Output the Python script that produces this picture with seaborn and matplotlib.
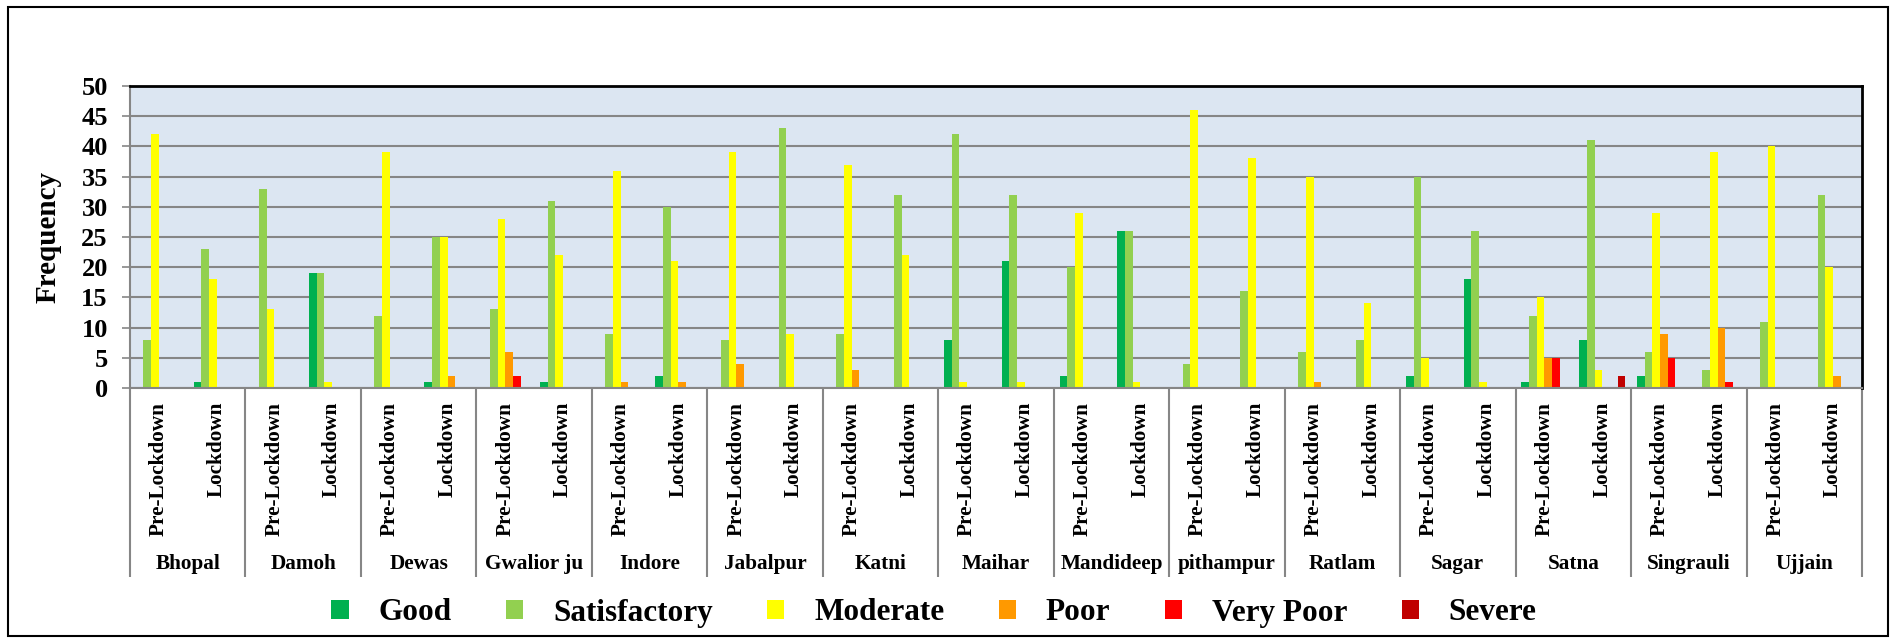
import pandas as pd
import matplotlib.pyplot as plt
import seaborn as sns
from matplotlib.patches import Rectangle

# data
cities = ["Bhopal", "Damoh", "Dewas", "Gwalior ju", "Indore", "Jabalpur", "Katni",
          "Maihar", "Mandideep", "pithampur", "Ratlam", "Sagar", "Satna",
          "Singrauli", "Ujjain"]
periods = ["Pre-Lockdown", "Lockdown"]
categories = ["Good", "Satisfactory", "Moderate", "Poor", "Very Poor", "Severe"]

good = [0, 1, 0, 19, 0, 1, 0, 1, 0, 2, 0, 0, 0, 0, 8, 21, 2, 26, 0, 0, 0, 0, 2, 18, 1, 8, 2, 0, 0, 0]
satisfactory = [8, 23, 33, 19, 12, 25, 13, 31, 9, 30, 8, 43, 9, 32, 42, 32, 20, 26, 4, 16, 6, 8, 35, 26, 12, 41, 6, 3, 11, 32]
moderate = [42, 18, 13, 1, 39, 25, 28, 22, 36, 21, 39, 9, 37, 22, 1, 1, 29, 1, 46, 38, 35, 14, 5, 1, 15, 3, 29, 39, 40, 20]
poor = [0, 0, 0, 0, 0, 2, 6, 0, 1, 1, 4, 0, 3, 0, 0, 0, 0, 0, 0, 0, 1, 0, 0, 0, 5, 0, 9, 10, 0, 2]
very_poor = [0, 0, 0, 0, 0, 0, 2, 0, 0, 0, 0, 0, 0, 0, 0, 0, 0, 0, 0, 0, 0, 0, 0, 0, 5, 0, 5, 1, 0, 0]
severe = [0, 0, 0, 0, 0, 0, 0, 0, 0, 0, 0, 0, 0, 0, 0, 0, 0, 0, 0, 0, 0, 0, 0, 0, 0, 2, 0, 0, 0, 0]

colors = ["#00B050", "#92D050", "#FFFF00", "#FF9900", "#FF0000", "#C00000"]

# long table for seaborn
slots = [f"{c}|{p}" for c in cities for p in periods]
series = [good, satisfactory, moderate, poor, very_poor, severe]
rows = []
for cat, vals in zip(categories, series):
    for s, v in zip(slots, vals):
        rows.append({"slot": s, "category": cat, "value": v})
df = pd.DataFrame(rows)

plt.rcParams["font.family"] = ["Liberation Serif", "DejaVu Serif"]
plt.rcParams["font.weight"] = "bold"

W, H = 1892, 639
fig = plt.figure(figsize=(W / 100, H / 100), dpi=100)
ax = fig.add_axes([130 / W, 1 - 388 / H, 1732 / W, 302 / H])
ax.set_facecolor("#DCE6F2")

sns.barplot(data=df, x="slot", y="value", hue="category", order=slots,
            hue_order=categories, palette=dict(zip(categories, colors)),
            width=0.8, linewidth=0, saturation=1, errorbar=None, ax=ax)

handles, labels = ax.get_legend_handles_labels()
ax.legend_.remove()

ax.set_xlim(-0.5, len(slots) - 0.5)
ax.set_ylim(0, 50)
ax.set_yticks(range(0, 51, 5))
ax.set_axisbelow(True)
ax.yaxis.grid(True, color="#868686", linewidth=1.5)
ax.xaxis.grid(False)

for side in ["top", "right"]:
    ax.spines[side].set_color("black")
    ax.spines[side].set_linewidth(2)
for side in ["left", "bottom"]:
    ax.spines[side].set_color("#868686")
    ax.spines[side].set_linewidth(1.5)

ax.tick_params(axis="y", length=6, width=1.2, color="#868686", pad=10,
               labelsize=19)
ax.set_xticks(range(len(slots)))
ax.set_xticklabels(periods * len(cities), rotation=90, va="top", fontsize=15.3,
                   fontweight="bold")
ax.tick_params(axis="x", length=0, pad=10)
for lab in ax.get_yticklabels():
    lab.set_fontweight("bold")

ax.set_xlabel("")
ax.set_ylabel("Frequency", fontsize=21, fontweight="bold")
ax.yaxis.set_label_coords(-0.0395, 0.5)

# city separators and names under the period labels
trans = ax.get_xaxis_transform()
bounds = [i * 2 - 0.5 for i in range(len(cities) + 1)]
ax.vlines(bounds, -0.626, 0, transform=trans, colors="#868686",
          linewidth=1.5, clip_on=False)
for i, c in enumerate(cities):
    ax.text(i * 2 + 0.5, -0.583, c, transform=trans, ha="center", va="center",
            fontsize=15.3, fontweight="bold")

fig.legend(handles, labels, loc="center", bbox_to_anchor=(934 / W, 1 - 613 / H),
           ncol=6, frameon=False, handlelength=0.55,
           handleheight=0.55, handletextpad=0.95, columnspacing=1.75,
           prop={"weight": "bold", "size": 22.5})

# outer frame
fig.patches.append(Rectangle((8 / W, 3 / H), 1880 / W, 629 / H,
                             transform=fig.transFigure, fill=False,
                             edgecolor="black", linewidth=1.5))

fig.savefig("out.png", dpi=100)
